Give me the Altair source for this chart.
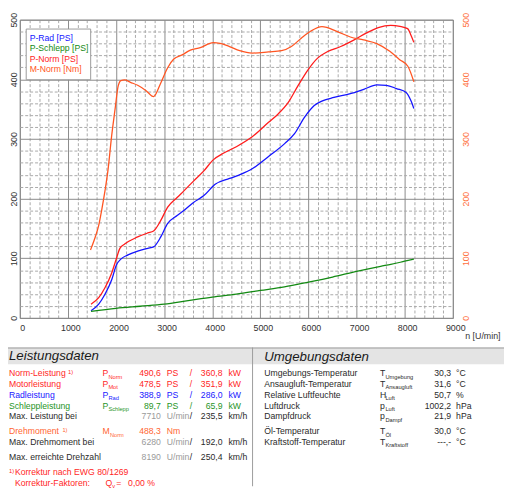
import altair as alt
import pandas as pd

# ---------------- curve data ----------------
SERIES = ["P-Rad [PS]", "P-Schlepp [PS]", "P-Norm [PS]", "M-Norm [Nm]"]

RPM_RAD = [1480, 1640, 1770, 1910, 2010, 2100, 2250, 2450, 2660, 2780, 2930, 3070, 3270, 3410,
           3610, 3820, 4060, 4360, 4600, 4830, 5170, 5510, 5710, 5920, 6120, 6290, 6530, 6870,
           7150, 7420, 7620, 7830, 8030, 8130, 8190]
P_RAD = [12, 23, 39.6, 64, 89, 98.5, 105.6, 112, 116.6, 119, 135.8, 158, 171.6, 180,
         193.6, 204.6, 224, 233.8, 241, 250, 270.6, 292.6, 309, 336.6, 356, 364, 369.6, 376,
         383.3, 390.6, 390, 384.5, 378, 364, 351]

RPM_SCHLEPP = [1480, 2000, 2500, 3000, 3500, 4000, 4500, 5000, 5500, 6000, 6500, 7000, 7500,
               7710, 8000, 8190]
P_SCHLEPP = [11, 16, 19.5, 23, 29, 35, 40, 46, 52, 60, 68.5, 78, 86.5, 89.7, 95, 98.5]

RPM_NORM = [1480, 1640, 1770, 1910, 2010, 2080, 2180, 2450, 2660, 2780, 2930, 3070, 3270, 3410,
            3610, 3820, 4020, 4230, 4500, 4830, 5170, 5370, 5580, 5780, 5990, 6190, 6400, 6670,
            6940, 7210, 7450, 7710, 7900, 8060, 8130, 8190]
P_NORM = [23, 34, 50.6, 75.4, 100, 116.6, 123.8, 135.8, 142.4, 145.7, 163.4, 185.3, 201.8, 212.9,
          229.4, 246, 265, 276, 287, 303.6, 328, 342, 361.4, 389, 416, 435.6, 446.7, 455,
          465.8, 478, 486.8, 490.6, 489, 485, 474, 462]

RPM_M = [1470, 1570, 1640, 1700, 1770, 1830, 1910, 1980, 2045, 2100, 2180, 2300, 2450, 2625,
         2780, 2930, 3070, 3200, 3375, 3545, 3750, 4020, 4160, 4360, 4570, 4830, 5170, 5440,
         5645, 5850, 6050, 6280, 6600, 6870, 7145, 7420, 7690, 7895, 8065, 8190]
M_NORM = [114, 136, 155, 180, 213, 246, 306, 350, 389, 398, 399, 395, 390, 381,
          371, 394, 419, 434, 441, 449, 453, 461.5, 460.5, 455, 448, 444, 446, 448,
          455, 469, 481, 488.3, 480, 471, 466, 460, 447, 433, 422, 396]

X_TICKS = [0, 1000, 2000, 3000, 4000, 5000, 6000, 7000, 8000, 9000]
Y_TICKS = [0, 100, 200, 300, 400, 500]
X_TITLE = "n [U/min]"

# ---------------- table data ----------------
LEFT_TITLE = "Leistungsdaten"
LEFT_LABELS = ["Norm-Leistung", "Motorleistung", "Radleistung", "Schleppleistung",
               "Max. Leistung bei", "Drehmoment", "Max. Drehmoment bei", "Max. erreichte Drehzahl"]
LEFT_SYM = ["P", "P", "P", "P", "", "M", "", ""]
LEFT_SUB = ["Norm", "Mot", "Rad", "Schlepp", "", "Norm", "", ""]
LEFT_VAL1 = ["490,6", "478,5", "388,9", "89,7", "7710", "488,3", "6280", "8190"]
LEFT_UNIT1 = ["PS", "PS", "PS", "PS", "U/min", "Nm", "U/min", "U/min"]
LEFT_VAL2 = ["360,8", "351,9", "286,0", "65,9", "235,5", "", "192,0", "250,4"]
LEFT_UNIT2 = ["kW", "kW", "kW", "kW", "km/h", "", "km/h", "km/h"]
NOTE_MARK = "1)"
NOTE_ROWS = ["Norm-Leistung", "Drehmoment"]
FOOT_1 = "Korrektur nach EWG 80/1269"
FOOT_2 = "Korrektur-Faktoren:"
FOOT_Q = "Q"
FOOT_QSUB = "v"
FOOT_EQ = "="
FOOT_VAL = "0,00 %"

RIGHT_TITLE = "Umgebungsdaten"
RIGHT_LABELS = ["Umgebungs-Temperatur", "Ansaugluft-Temperatur", "Relative Luftfeuchte",
                "Luftdruck", "Dampfdruck", "Öl-Temperatur", "Kraftstoff-Temperatur"]
RIGHT_SYM = ["T", "T", "H", "p", "p", "T", "T"]
RIGHT_SUB = ["Umgebung", "Ansaugluft", "Luft", "Luft", "Dampf", "Öl", "Kraftstoff"]
RIGHT_VAL = ["30,3", "31,6", "50,7", "1002,2", "21,9", "30,0", "---,-"]
RIGHT_UNIT = ["°C", "°C", "%", "hPa", "hPa", "°C", "°C"]

# ---------------- styles / layout ----------------
FONT = "Liberation Sans"
W, H = 440, 303
LINE_COLORS = ["#1414ff", "#138a13", "#ff1c1c", "#ff5522"]
GRID_MAJOR = "#8a8a8a"
GRID_MINOR = "#a8a8a8"
DARK = "#2a2a2a"
GRAYTXT = "#9a9a9a"
RED = "#ff1f1f"
BLUE = "#2020ff"
GREEN = "#1f951f"
ORANGE = "#ff6633"
LEFT_ROW_COLORS = [RED, RED, BLUE, GREEN, DARK, ORANGE, DARK, DARK]
LEFT_GROUPS = [0, 0, 0, 0, 0, 1, 1, 2]
RIGHT_GROUPS = [0, 0, 0, 0, 0, 1, 1]
TS = 8.8  # table font size

curves = pd.concat([
    pd.DataFrame({"series": SERIES[0], "rpm": RPM_RAD, "value": P_RAD}),
    pd.DataFrame({"series": SERIES[1], "rpm": RPM_SCHLEPP, "value": P_SCHLEPP}),
    pd.DataFrame({"series": SERIES[2], "rpm": RPM_NORM, "value": P_NORM}),
    pd.DataFrame({"series": SERIES[3], "rpm": RPM_M, "value": M_NORM}),
], ignore_index=True)

x_scale = alt.Scale(domain=[0, 9000], nice=False, zero=False)
y_scale = alt.Scale(domain=[0, 500], nice=False)
color_scale = alt.Scale(domain=SERIES, range=LINE_COLORS)

MINOR_X = [v for v in range(200, 9000, 200) if v % 1000]
MINOR_Y = [v for v in range(20, 500, 20) if v % 100]
one = pd.DataFrame({"k": [0]})

grid_only = dict(grid=True, gridColor=GRID_MINOR, gridDash=[3, 2], gridWidth=1, gridOpacity=1,
                 labels=False, ticks=False, domain=False, title="")

vminor = alt.Chart(pd.DataFrame({"gx": MINOR_X})).mark_point(opacity=0, size=1).encode(
    x=alt.X("gx:Q", scale=x_scale,
            axis=alt.Axis(orient="bottom", values=MINOR_X, **grid_only)))
hminor = alt.Chart(pd.DataFrame({"gy": MINOR_Y})).mark_point(opacity=0, size=1).encode(
    y=alt.Y("gy:Q", scale=y_scale,
            axis=alt.Axis(orient="left", values=MINOR_Y, **grid_only)))

lines = alt.Chart(curves).mark_line(strokeWidth=1.3, interpolate="monotone").encode(
    x=alt.X("rpm:Q", scale=x_scale, axis=alt.Axis(
        orient="bottom", values=X_TICKS, format="d", title=X_TITLE, grid=True,
        gridColor=GRID_MAJOR, gridOpacity=1,
        domain=False, ticks=False, labelPadding=6, labelFlush=False, labelOverlap=False,
        labelOffset=2.5, labelColor="#333333", labelFontSize=9,
        titleFontSize=9, titleFontWeight="normal", titleColor="#333333",
        titleX=488, titleY=18, titleAlign="right", titleBaseline="middle")),
    y=alt.Y("value:Q", scale=y_scale, axis=alt.Axis(
        orient="left", values=Y_TICKS, format="d", title=None, grid=True, gridColor=GRID_MAJOR,
        gridOpacity=1, domain=False, ticks=False, labelAngle=270, labelAlign="center",
        labelBaseline="alphabetic", labelPadding=3.3, labelOverlap=False, labelFlush=False,
        labelColor="#333333", labelFontSize=9)),
    color=alt.Color("series:N", scale=color_scale, legend=None),
    detail="series:N",
)

right_axis = alt.Chart(pd.DataFrame({"ry": Y_TICKS})).mark_point(opacity=0, size=1).encode(
    y=alt.Y("ry:Q", scale=y_scale, axis=alt.Axis(
        orient="right", values=Y_TICKS, format="d", title=None, grid=False, domain=False,
        ticks=False, labelAngle=270, labelAlign="center", labelBaseline="alphabetic",
        labelPadding=15.8, labelOverlap=False, labelFlush=False, labelColor="#ff7040",
        labelFontSize=9)))

# legend box
legend_box = alt.Chart(one).mark_rect(fill="white", stroke="#9a9a9a", strokeWidth=1).encode(
    x=alt.value(6.5), x2=alt.value(72), y=alt.value(9.5), y2=alt.value(61))
legend_df = pd.DataFrame({"series": SERIES, "idx": list(range(len(SERIES)))})
legend_txt = alt.Chart(legend_df).mark_text(align="left", baseline="middle", font=FONT,
                                            fontSize=TS).encode(
    x=alt.value(10),
    y=alt.Y("idx:Q", scale=alt.Scale(domain=[0, 3], range=[18.3, 50.5], nice=False, zero=False),
            axis=None),
    text="series:N",
    color=alt.Color("series:N", scale=color_scale, legend=None))

# ---------------- table ----------------
Y0, LINE = 359.5, 10.9
row_scale = alt.Scale(domain=[0, 10], range=[Y0, Y0 + 10 * LINE], nice=False, zero=False)

left = pd.DataFrame({
    "slot": [i + 0.4 * g for i, g in enumerate(LEFT_GROUPS)],
    "label": LEFT_LABELS, "sym": LEFT_SYM, "sub": LEFT_SUB,
    "v1": LEFT_VAL1, "u1": LEFT_UNIT1,
    "sl": ["/" if v else "" for v in LEFT_VAL2],
    "v2": LEFT_VAL2, "u2": LEFT_UNIT2,
    "c": LEFT_ROW_COLORS,
    "c1": [GRAYTXT if s == "" else c for s, c in zip(LEFT_SYM, LEFT_ROW_COLORS)],
})
right = pd.DataFrame({
    "slot": [i + 0.4 * g for i, g in enumerate(RIGHT_GROUPS)],
    "label": RIGHT_LABELS, "sym": RIGHT_SYM, "sub": RIGHT_SUB,
    "v": RIGHT_VAL, "u": RIGHT_UNIT, "c": [DARK] * len(RIGHT_LABELS),
})
foot = pd.DataFrame({
    "slot": [8 + 1.2, 9 + 1.2], "t": [FOOT_1, FOOT_2], "c": [RED, RED]})


def txt(df, field, x, align="left", size=TS, dy=0, color_field="c"):
    return alt.Chart(df).mark_text(align=align, baseline="middle", font=FONT, fontSize=size,
                                   dy=dy).encode(
        x=alt.value(x),
        y=alt.Y("slot:Q", scale=row_scale, axis=None),
        text=alt.Text(f"{field}:N"),
        color=alt.Color(f"{color_field}:N", scale=None))


table_layers = [
    txt(left, "label", -11),
    txt(left, "sym", 84),
    txt(left, "sub", 90, size=5.8, dy=3.2).transform_filter(alt.datum.sym == "P"),
    txt(left, "sub", 91.6, size=5.8, dy=3.2).transform_filter(alt.datum.sym == "M"),
    txt(left, "v1", 143.3, align="right", color_field="c1"),
    txt(left, "u1", 149.3, color_field="c1"),
    txt(left, "sl", 174, align="center"),
    txt(left, "v2", 206, align="right"),
    txt(left, "u2", 212),
    txt(left, "label", 49, size=5.8, dy=-1.5).transform_filter(
        alt.datum.label == NOTE_ROWS[0]).transform_calculate(label=f"'{NOTE_MARK}'"),
    txt(left, "label", 43.3, size=5.8, dy=-1.5).transform_filter(
        alt.datum.label == NOTE_ROWS[1]).transform_calculate(label=f"'{NOTE_MARK}'"),
    txt(foot, "t", -5),
    txt(foot.iloc[[0]].assign(t=NOTE_MARK), "t", -11, size=5.8, dy=-1.5),
    txt(foot.iloc[[1]].assign(t=FOOT_Q), "t", 87),
    txt(foot.iloc[[1]].assign(t=FOOT_QSUB), "t", 94, size=5.8, dy=3.2),
    txt(foot.iloc[[1]].assign(t=FOOT_EQ), "t", 100.5, align="center"),
    txt(foot.iloc[[1]].assign(t=FOOT_VAL), "t", 110),
    txt(right, "label", 248.3),
    txt(right, "sym", 366),
    txt(right, "sub", 371.5, size=5.8, dy=3.2),
    txt(right, "v", 438.3, align="right"),
    txt(right, "u", 443.3),
]

BAR_FILL = "#e4e4e4"
LINE_GRAY = "#9c9c9c"
bar_left = alt.Chart(one).mark_rect(fill=BAR_FILL).encode(
    x=alt.value(-12), x2=alt.value(236), y=alt.value(333), y2=alt.value(350))
bar_right = alt.Chart(one).mark_rect(fill=BAR_FILL).encode(
    x=alt.value(236), x2=alt.value(492), y=alt.value(333), y2=alt.value(350))
bar_top = alt.Chart(one).mark_rect(fill=LINE_GRAY).encode(
    x=alt.value(-12), x2=alt.value(492), y=alt.value(333), y2=alt.value(334))
sep = alt.Chart(one).mark_rect(fill=LINE_GRAY).encode(
    x=alt.value(236), x2=alt.value(237), y=alt.value(333), y2=alt.value(474))
head_left = alt.Chart(pd.DataFrame({"h": [LEFT_TITLE]})).mark_text(
    align="left", baseline="middle", font=FONT, fontSize=13.5, fontStyle="italic",
    color="#1a1a1a").encode(x=alt.value(-11), y=alt.value(342), text="h:N")
head_right = alt.Chart(pd.DataFrame({"h": [RIGHT_TITLE]})).mark_text(
    align="left", baseline="middle", font=FONT, fontSize=13.5, fontStyle="italic",
    color="#1a1a1a").encode(x=alt.value(248.3), y=alt.value(343), text="h:N")

chart = alt.layer(
    hminor, vminor, lines, right_axis, legend_box, legend_txt,
    bar_left, bar_right, bar_top, sep, head_left, head_right,
    *table_layers,
).resolve_scale(y="independent").resolve_axis(x="independent", y="independent").properties(
    width=W, height=H,
    autosize=alt.AutoSizeParams(type="none"),
    padding={"left": 12, "top": 8, "right": 52, "bottom": 171},
    background="white",
).configure_view(stroke=GRID_MAJOR, strokeWidth=1).configure_axis(
    labelFont=FONT, titleFont=FONT)

chart.save("out.html", embed_options={"renderer": "svg", "actions": False})
